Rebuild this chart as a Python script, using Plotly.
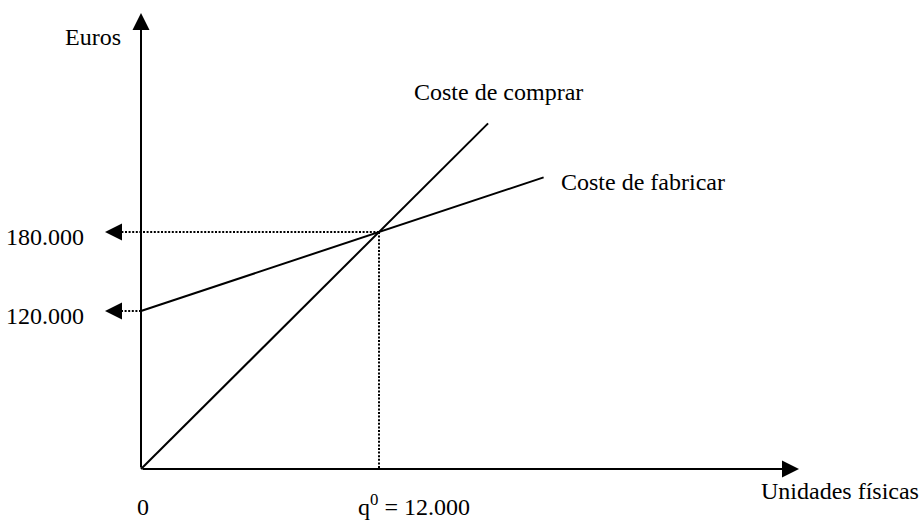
import plotly.graph_objects as go

# ---------------- data ----------------
q_break_even = 12000          # unidades
cost_break_even = 180000      # euros
fixed_cost = 120000           # euros

comprar_x = [0, 12000, 17500]
comprar_y = [0, 180000, 262500]
fabricar_x = [0, 12000, 20300]
fabricar_y = [120000, 180000, 221500]

y_tick_values = [120000, 180000]
y_tick_labels = ["120.000", "180.000"]
x_tick_values = [0, 12000]
x_tick_labels = ["0", "q<sup>0</sup> = 12.000"]

series_names = ["Coste de comprar", "Coste de fabricar"]
x_title = "Unidades físicas"
y_title = "Euros"

# ---------------- layout geometry ----------------
W, H = 919, 520
OX, OY = 141, 469                      # origin in pixels
PX_PER_UNIT = 238 / 12000
PX_PER_EURO = 237 / 180000
x_range = [-OX / PX_PER_UNIT, (W - OX) / PX_PER_UNIT]
y_range = [-(H - OY) / PX_PER_EURO, OY / PX_PER_EURO]


def x_at(px):
    return (px - OX) / PX_PER_UNIT


def y_at(py):
    return (OY - py) / PX_PER_EURO


FONT = dict(family="Liberation Serif, Times New Roman, serif", size=24, color="black")
BLACK = "black"

fig = go.Figure()

# cost lines
fig.add_trace(go.Scatter(x=comprar_x, y=comprar_y, mode="lines",
                         line=dict(color=BLACK, width=2), name=series_names[0],
                         hoverinfo="skip"))
fig.add_trace(go.Scatter(x=fabricar_x, y=fabricar_y, mode="lines",
                         line=dict(color=BLACK, width=2), name=series_names[1],
                         hoverinfo="skip"))

# dotted guide lines
dot = dict(color=BLACK, width=2, dash="2px,1.6px")
arrow_base_x = x_at(119)
fig.add_trace(go.Scatter(x=[q_break_even, arrow_base_x], y=[cost_break_even, cost_break_even],
                         mode="lines", line=dot, hoverinfo="skip"))
fig.add_trace(go.Scatter(x=[fabricar_x[0], arrow_base_x], y=[fixed_cost, fixed_cost],
                         mode="lines", line=dot, hoverinfo="skip"))
fig.add_trace(go.Scatter(x=[q_break_even, q_break_even], y=[cost_break_even, 0],
                         mode="lines", line=dot, hoverinfo="skip"))

annotations = []
arrow_style = dict(showarrow=True, arrowhead=2, arrowsize=1.7, arrowwidth=2,
                   arrowcolor=BLACK, text="", axref="x", ayref="y",
                   xref="x", yref="y", standoff=0, startstandoff=0)

# axes with arrows
annotations.append(dict(x=0, y=y_at(13), ax=0, ay=0, **arrow_style))
annotations.append(dict(x=x_at(799), y=0, ax=0, ay=0, **arrow_style))

# arrowheads pointing to y values
for v in y_tick_values:
    annotations.append(dict(x=x_at(105), y=v, ax=x_at(121), ay=v, **arrow_style))

# y value labels
for v, lab in zip(y_tick_values, y_tick_labels):
    annotations.append(dict(x=0, y=v, xref="x", yref="y", text=lab, showarrow=False,
                            xanchor="right", yanchor="middle", xshift=-55, yshift=-5,
                            font=FONT))

# x value labels
annotations.append(dict(x=x_tick_values[0], y=0, xref="x", yref="y", text=x_tick_labels[0],
                        showarrow=False, xanchor="center", yanchor="middle",
                        xshift=2, yshift=-38, borderpad=0, font=FONT))
annotations.append(dict(x=x_tick_values[1], y=0, xref="x", yref="y", text=x_tick_labels[1],
                        showarrow=False, xanchor="left", yanchor="middle",
                        xshift=-22, yshift=-36, borderpad=0, font=FONT))

# axis titles
annotations.append(dict(x=123 / W, y=1 - 37 / H, xref="paper", yref="paper", text=y_title,
                        showarrow=False, xanchor="right", yanchor="middle", font=FONT))
annotations.append(dict(x=759 / W, y=1 - 491 / H, xref="paper", yref="paper", text=x_title,
                        showarrow=False, xanchor="left", yanchor="middle", font=FONT))

# series labels at the end of each line
annotations.append(dict(x=comprar_x[-1], y=comprar_y[-1], xref="x", yref="y",
                        text=series_names[0], showarrow=False, xanchor="center",
                        yanchor="middle", xshift=10, yshift=31, font=FONT))
annotations.append(dict(x=fabricar_x[-1], y=fabricar_y[-1], xref="x", yref="y",
                        text=series_names[1], showarrow=False, xanchor="left",
                        yanchor="middle", xshift=15, yshift=-5, font=FONT))

fig.update_layout(
    width=W, height=H,
    margin=dict(l=0, r=0, t=0, b=0),
    paper_bgcolor="white", plot_bgcolor="white",
    showlegend=False,
    xaxis=dict(range=x_range, visible=False, fixedrange=True),
    yaxis=dict(range=y_range, visible=False, fixedrange=True),
    annotations=annotations,
)

fig.write_html(
    "out.html",
    config={"displayModeBar": False},
    post_script="document.body.style.margin='0';document.body.style.overflow='hidden';",
)
